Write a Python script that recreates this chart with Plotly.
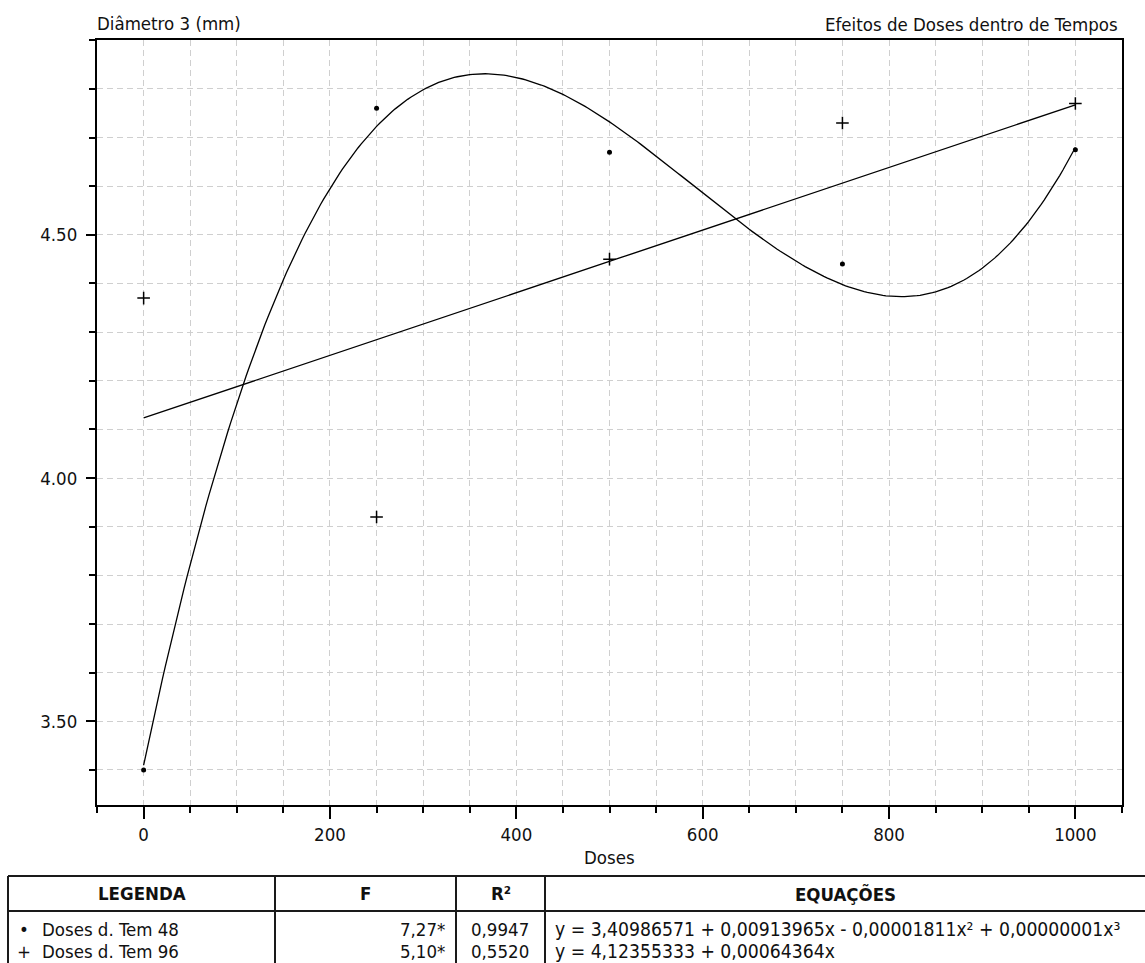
import numpy as np
import plotly.graph_objects as go

# ---------------- data ----------------
doses = [0, 250, 500, 750, 1000]
tem48 = [3.40, 4.76, 4.67, 4.44, 4.675]
tem96 = [4.37, 3.92, 4.45, 4.73, 4.77]

# regression coefficients (b0, b1, b2, b3) as printed; b3
cubic_coefs = [3.40986571, 0.00913965, -0.00001811, 0.00000001024]
linear_coefs = [4.12355333, 0.00064364]

x_ticks = [0, 200, 400, 600, 800, 1000]
y_ticks = [3.50, 4.00, 4.50]

table_headers = ["LEGENDA", "F", "R²", "EQUAÇÕES"]
legend_symbols = ["•", "+"]
legend_labels = ["Doses d. Tem 48", "Doses d. Tem 96"]
f_values = ["7,27*", "5,10*"]
r2_values = ["0,9947", "0,5520"]
equations = [
    "y = 3,40986571 + 0,00913965x - 0,00001811x² + 0,00000001x³",
    "y = 4,12355333 + 0,00064364x",
]

# ---------------- layout constants ----------------
W, H = 1145, 963
L, R, T, B = 97, 1122, 40, 805
FONT = "DejaVu Sans Condensed, DejaVu Sans"
FS = 18.5


def px(xp):
    return (xp - L) / (R - L)


def py(yp):
    return (B - yp) / (B - T)


xs = np.linspace(0, 1000, 301)
y_cubic = sum(c * xs ** i for i, c in enumerate(cubic_coefs))
y_lin = sum(c * xs ** i for i, c in enumerate(linear_coefs))

fig = go.Figure()
fig.add_trace(go.Scatter(x=xs, y=y_cubic, mode="lines",
                         line=dict(color="black", width=1.3), hoverinfo="skip"))
fig.add_trace(go.Scatter(x=xs, y=y_lin, mode="lines",
                         line=dict(color="black", width=1.3), hoverinfo="skip"))
fig.add_trace(go.Scatter(x=doses, y=tem48, mode="markers", name=legend_labels[0],
                         marker=dict(symbol="circle", size=5, color="black")))
fig.add_trace(go.Scatter(x=doses, y=tem96, mode="markers", name=legend_labels[1],
                         marker=dict(symbol="cross-thin", size=9,
                                     line=dict(color="black", width=1.5))))

grid_style = dict(gridcolor="#cfcfcf", gridwidth=1, griddash="6px,4px")

fig.update_xaxes(
    range=[-50.05, 1050.05], tickvals=x_ticks, ticks="outside", ticklen=12,
    tickwidth=1.5, tickcolor="black", showline=True, linecolor="black",
    linewidth=2, mirror=True, zeroline=False, showgrid=True, **grid_style,
    tickfont=dict(family=FONT, size=FS, color="#111"),
    minor=dict(dtick=50, tick0=0, ticks="outside", ticklen=6, tickwidth=1.5,
               tickcolor="black", showgrid=True, **grid_style),
)
fig.update_yaxes(
    range=[3.328, 4.9005], tick0=3.5, dtick=0.5, tickformat=".2f",
    ticks="outside", ticklen=9, tickwidth=1.5, tickcolor="black",
    ticklabelstandoff=5,
    showline=True, linecolor="black", linewidth=2, mirror=True,
    zeroline=False, showgrid=True, **grid_style,
    tickfont=dict(family=FONT, size=FS, color="#111"),
    minor=dict(dtick=0.1, ticks="outside", ticklen=6, tickwidth=1.5,
               tickcolor="black", showgrid=True, **grid_style),
)

annotations = [
    dict(text="Diâmetro 3 (mm)", x=px(95), y=py(23), xanchor="left", yanchor="middle"),
    dict(text="Efeitos de Doses dentro de Tempos", x=px(1120), y=py(24),
         xanchor="right", yanchor="middle"),
    dict(text="Doses", x=0.5, y=py(857), xanchor="center", yanchor="middle"),
]

# ---------------- table (drawn with shapes + text) ----------------
tbl_top, tbl_head, tbl_bottom = 876, 911, 975
col_edges = [8, 275, 456, 545, 1150]
line_col = "#1a1a1a"
shapes = []
for yy in (tbl_top, tbl_head):
    shapes.append(dict(type="line", xref="paper", yref="paper",
                       x0=px(col_edges[0]), x1=px(col_edges[-1]), y0=py(yy), y1=py(yy),
                       line=dict(color=line_col, width=2)))
for xx in col_edges[:-1]:
    shapes.append(dict(type="line", xref="paper", yref="paper",
                       x0=px(xx), x1=px(xx), y0=py(tbl_top), y1=py(tbl_bottom),
                       line=dict(color=line_col, width=2)))

head_y = (tbl_top + tbl_head) / 2
for i, h in enumerate(table_headers):
    cx = (col_edges[i] + col_edges[i + 1]) / 2
    if i == 3:
        cx = (545 + 1145) / 2
    annotations.append(dict(text=f"<b>{h}</b>", x=px(cx), y=py(head_y),
                            xanchor="center", yanchor="middle"))

row_y = [929, 951]
for r in range(2):
    annotations.append(dict(text=legend_symbols[r], x=px(24), y=py(row_y[r]),
                            xanchor="center", yanchor="middle"))
    annotations.append(dict(text=legend_labels[r], x=px(40), y=py(row_y[r]),
                            xanchor="left", yanchor="middle"))
    annotations.append(dict(text=f_values[r], x=px(447), y=py(row_y[r]),
                            xanchor="right", yanchor="middle"))
    annotations.append(dict(text=r2_values[r], x=px(500), y=py(row_y[r]),
                            xanchor="center", yanchor="middle"))
    annotations.append(dict(text=equations[r], x=px(553), y=py(row_y[r]),
                            xanchor="left", yanchor="middle",
                            font=dict(family=FONT, size=19.2, color="#111")))

for a in annotations:
    a.update(xref="paper", yref="paper", showarrow=False)
    a.setdefault("font", dict(family=FONT, size=FS, color="#111"))

fig.update_layout(
    width=W, height=H,
    margin=dict(l=L, r=W - R, t=T, b=H - B, pad=0, autoexpand=False),
    paper_bgcolor="white", plot_bgcolor="white",
    showlegend=False,
    annotations=annotations, shapes=shapes,
    font=dict(family=FONT, size=FS, color="#111"),
)

fig.write_html(
    "out.html",
    config={"displayModeBar": False},
    post_script="document.body.style.margin='0';document.body.style.overflow='hidden';",
)
